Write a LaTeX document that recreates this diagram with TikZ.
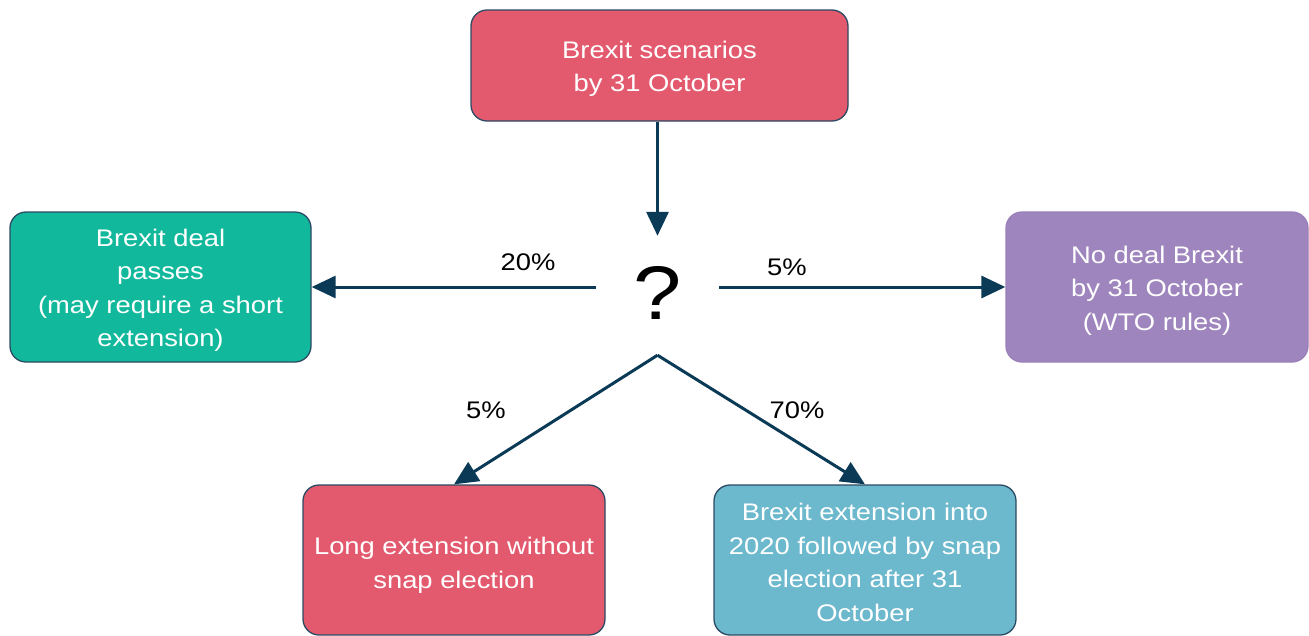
\documentclass[tikz,border=0pt]{standalone}
\usepackage{fontspec}
\setmainfont{Liberation Sans}[FakeStretch=1.14]
\usetikzlibrary{arrows.meta}
\definecolor{redc}{HTML}{E35A6E}
\definecolor{greenc}{HTML}{12B89B}
\definecolor{purplec}{HTML}{9F85BD}
\definecolor{purpleedge}{HTML}{9A80B8}
\definecolor{bluec}{HTML}{6CB8CD}
\definecolor{edgec}{HTML}{2B4A63}
\definecolor{arrowc}{HTML}{0B3A57}
\newcommand\dropby[1]{\rule{0pt}{#1}}
\begin{document}
\begin{tikzpicture}[x=1pt,y=-1pt,
  box/.style={rounded corners=16pt, draw=edgec, line width=1.3pt, text=white,
    align=center, font=\fontsize{24}{33.5}\selectfont, inner sep=0pt},
  arr/.style={draw=arrowc, line width=3pt, -{Triangle[length=24pt,width=22pt]}},
  pct/.style={font=\fontsize{24}{28}\selectfont, text=black, inner sep=0pt}]
\useasboundingbox (0,0) rectangle (1309,635);
\node[box, fill=redc, minimum width=377pt, minimum height=111pt] (top) at (659.5,65.5) {\dropby{24pt}Brexit scenarios\\by 31 October};
\node[box, fill=greenc, minimum width=301pt, minimum height=150pt] (deal) at (160.5,287) {\dropby{24pt}Brexit deal\\passes\\(may require a short\\extension)};
\node[box, fill=purplec, draw=purpleedge, minimum width=302pt, minimum height=150pt] (nodeal) at (1157,287) {\dropby{24pt}No deal Brexit\\by 31 October\\(WTO rules)};
\node[box, fill=redc, minimum width=302pt, minimum height=150pt] (long) at (454,560) {\dropby{28pt}Long extension without\\snap election};
\node[box, fill=bluec, minimum width=302pt, minimum height=150pt] (ext) at (865,560) {\dropby{22pt}Brexit extension into\\2020 followed by snap\\election after 31\\October};
\node[inner sep=0pt, minimum width=123pt, minimum height=119pt, font=\fontsize{76}{76}\selectfont] (q) at (657.5,295.5) {\raisebox{5pt}{?}};
\draw[arr] (top.south -| q.north) -- (q.north);
\draw[arr] (q.west |- deal.east) -- (deal.east);
\draw[arr] (q.east |- nodeal.west) -- (nodeal.west);
\draw[arr] (q.south) -- (long.north);
\draw[arr] (q.south) -- (ext.north);
\node[pct] (p20) at (528,262) {20\%};
\node[pct] (p5a) at (787,267) {5\%};
\node[pct] (p5b) at (486,410) {5\%};
\node[pct] (p70) at (797,410) {70\%};
\end{tikzpicture}
\end{document}
